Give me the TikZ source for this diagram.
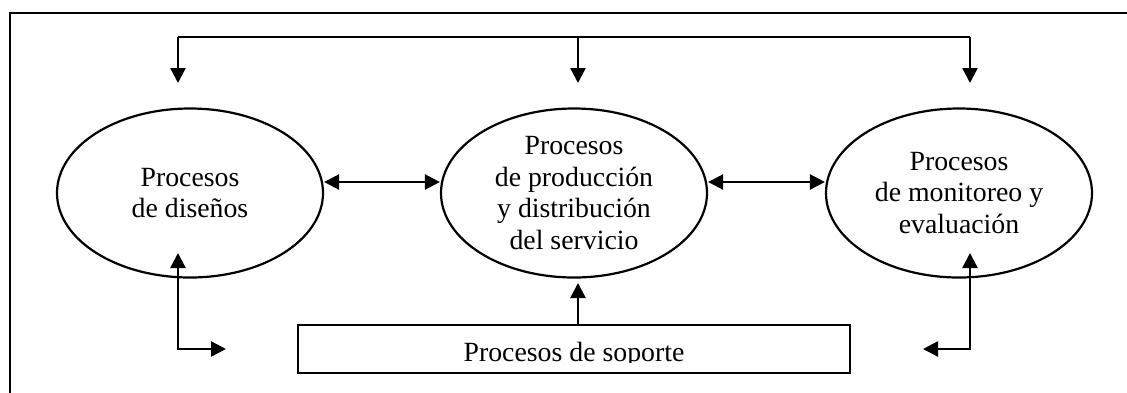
\documentclass[tikz,border=0pt]{standalone}
\usepackage{fontspec}
\setmainfont{Liberation Serif}
\usetikzlibrary{shapes.geometric,arrows.meta}
\begin{document}
\begin{tikzpicture}[x=1pt,y=-1pt,
  >={Triangle[length=15pt,width=15pt]},
  txt/.style={font=\fontsize{27.8}{31.7}\selectfont},
  proc/.style={ellipse,draw,line width=2.2pt,minimum width=266pt,minimum height=169pt,inner sep=0pt,align=center,txt},
  conn/.style={line width=2.4pt},
  boxst/.style={draw,line width=2.2pt,minimum width=552pt,minimum height=48pt,inner sep=0pt}
]
\useasboundingbox (0,0) rectangle (1127,392);
\clip (0,0) rectangle (1127,392);
\draw[line width=2pt] (10,13) rectangle (1145,410);

\node[proc] (e1) at (190,193) {Procesos\\de diseños};
\node[proc] (e2) at (574,193) {Procesos\\de producción\\y distribución\\del servicio};
\node[proc] (e3) at (959,193) {Procesos\\de monitoreo y\\evaluación};

\node[boxst] (sb) at (574,349) {};
\begin{scope}
\clip (298,325) rectangle (850,362);
\node[txt,anchor=base,inner sep=0pt] (st) at (574,361) {Procesos de soporte};
\end{scope}

% top distribution line
\coordinate (t1) at (178,37);
\coordinate (t2) at (578,37);
\coordinate (t3) at (970,37);
\coordinate (d1) at (178,83);
\coordinate (d2) at (578,83);
\coordinate (d3) at (970,83);
\draw[conn] (t1) -- (t3);
\draw[conn,->] (t1) -- (d1);
\draw[conn,->] (t2) -- (d2);
\draw[conn,->] (t3) -- (d3);

% horizontal links
\draw[conn,<->] ([yshift=11pt]e1.east) -- ([yshift=11pt]e2.west);
\draw[conn,<->] ([yshift=11pt]e2.east) -- ([yshift=11pt]e3.west);

% bottom links
\coordinate (b1) at (178,253);
\coordinate (b1e) at (226,349);
\draw[conn,<->] (b1) |- (b1e);
\coordinate (b3) at (970,253);
\coordinate (b3e) at (923,349);
\draw[conn,<->] (b3) |- (b3e);
\coordinate (m1) at (578,283);
\draw[conn,->] ([xshift=4pt]sb.north) -- (m1);
\end{tikzpicture}
\end{document}
